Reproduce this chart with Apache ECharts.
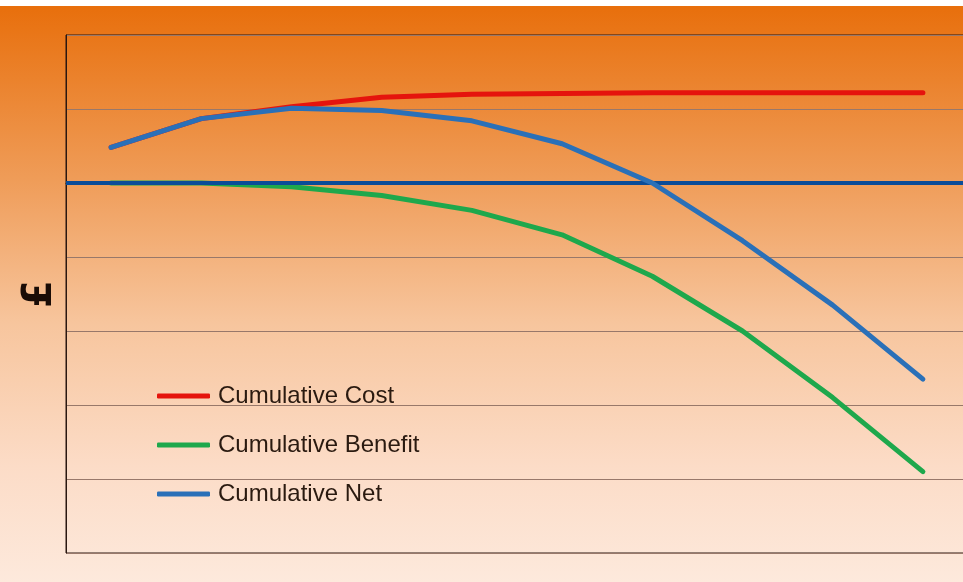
<!DOCTYPE html>
<html>
<head>
<meta charset="utf-8">
<script src="https://cdn.jsdelivr.net/npm/echarts@6/dist/echarts.min.js"></script>
<style>
  html, body { margin: 0; padding: 0; background: #ffffff; overflow: hidden; }
  #chart { position: absolute; left: 0; top: 6px; width: 975px; height: 576px; }
</style>
</head>
<body>
<div id="chart"></div>
<script>
// Ten periods along the horizontal axis (unlabelled)
const periods = ['1', '2', '3', '4', '5', '6', '7', '8', '9', '10'];

// Cumulative figures per period (arbitrary £ units)
const cumulativeCost    = [0.48, 0.87, 1.03, 1.16, 1.20, 1.21, 1.22, 1.22, 1.22, 1.22];
const cumulativeBenefit = [0.00, 0.00, -0.05, -0.17, -0.37, -0.70, -1.26, -2.00, -2.90, -3.90];
const cumulativeNet     = [0.48, 0.87, 1.01, 0.98, 0.84, 0.53, 0.00, -0.78, -1.65, -2.65];

const seriesNames = ['Cumulative Cost', 'Cumulative Benefit', 'Cumulative Net'];
const seriesColors = ['#e5140d', '#1ea84c', '#2a70b8'];

const chart = echarts.init(document.getElementById('chart'));

const dataSets = [cumulativeCost, cumulativeBenefit, cumulativeNet];
const lineSeries = dataSets.map((d, i) => ({
  name: seriesNames[i],
  type: 'line',
  data: d,
  showSymbol: false,
  symbol: 'none',
  lineStyle: { color: seriesColors[i], width: 5, cap: 'round', join: 'round' },
  itemStyle: { color: seriesColors[i] },
  z: 3 + i
}));

// Break-even (zero) reference line drawn above the data lines
lineSeries.push({
  name: 'zero',
  type: 'line',
  data: [],
  z: 10,
  markLine: {
    silent: true,
    symbol: ['none', 'none'],
    label: { show: false },
    lineStyle: { color: '#0b4c98', width: 4, type: 'solid' },
    data: [{ yAxis: 0 }]
  }
});

chart.setOption({
  animation: false,
  backgroundColor: {
    type: 'linear', x: 0, y: 0, x2: 0, y2: 1,
    colorStops: [
      { offset: 0, color: '#e86f0c' },
      { offset: 0.3, color: '#ef9c58' },
      { offset: 0.55, color: '#f7c59d' },
      { offset: 0.8, color: '#fcdcc7' },
      { offset: 1, color: '#fde9dc' }
    ]
  },
  grid: {
    left: 66, top: 29, width: 902, height: 518,
    show: true, borderColor: '#2a1710', borderWidth: 1,
    backgroundColor: 'transparent'
  },
  legend: {
    data: seriesNames,
    orient: 'vertical',
    left: 157,
    top: 378,
    padding: 0,
    itemWidth: 53,
    itemHeight: 5,
    itemGap: 25,
    icon: 'roundRect',
    textStyle: {
      fontFamily: 'Liberation Sans',
      fontSize: 24,
      color: '#2a1a10',
      lineHeight: 24,
      padding: [0, 0, 0, 3]
    }
  },
  xAxis: {
    type: 'category',
    data: periods,
    boundaryGap: true,
    axisLine: { show: true, lineStyle: { color: '#2a1710', width: 1 } },
    axisTick: { show: false },
    axisLabel: { show: false },
    splitLine: { show: false }
  },
  yAxis: {
    type: 'value',
    min: -5, max: 2, interval: 1,
    name: '£',
    nameLocation: 'middle',
    nameRotate: 90,
    nameGap: 5,
    nameTextStyle: { fontFamily: 'DejaVu Sans', fontWeight: 'bold', fontSize: 40, color: '#1a0c06' },
    axisLine: { show: true, lineStyle: { color: '#2a1710', width: 1 } },
    axisTick: { show: false },
    axisLabel: { show: false },
    splitLine: { show: true, lineStyle: { color: '#98786a', width: 1 } }
  },
  series: lineSeries
});
</script>
</body>
</html>
